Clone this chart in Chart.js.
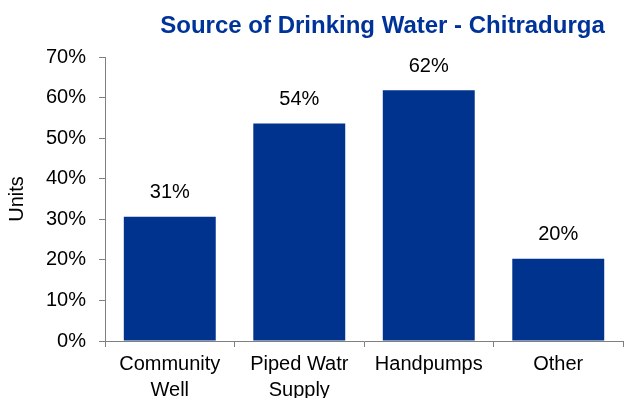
<!DOCTYPE html>
<html>
<head>
<meta charset="utf-8">
<script src="https://cdn.jsdelivr.net/npm/chart.js@4/dist/chart.umd.min.js"></script>
<style>
  html, body { margin: 0; padding: 0; background: #fff; }
  #wrap { width: 638px; height: 398px; }
</style>
</head>
<body>
<div id="wrap"><canvas id="waterChart"></canvas></div>
<script>
const chartTitle = 'Source of Drinking Water - Chitradurga';
const categories = [['Community', 'Well'], ['Piped Watr', 'Supply'], 'Handpumps', 'Other'];
const shares = [30.6, 53.6, 61.8, 20.3];
const yTicks = [0, 10, 20, 30, 40, 50, 60, 70];

const barBlue = '#00338D';
const font = 'Liberation Sans, Arial, sans-serif';

// draws the value above each bar and the chart heading
const labelPlugin = {
    id: 'labels',
    afterDatasetsDraw(chart) {
        const ctx = chart.ctx;
        const meta = chart.getDatasetMeta(0);
        ctx.save();
        ctx.fillStyle = '#000';
        ctx.font = '20px ' + font;
        ctx.textAlign = 'center';
        ctx.textBaseline = 'middle';
        meta.data.forEach((bar, i) => {
            ctx.fillText(Math.round(shares[i]) + '%', bar.x, bar.y - 24);
        });
        ctx.fillStyle = '#003399';
        ctx.font = 'bold 24px ' + font;
        ctx.fillText(chartTitle, (chart.chartArea.left + chart.width) / 2 + 11, 26);
        ctx.restore();
    }
};

new Chart(document.getElementById('waterChart'), {
    type: 'bar',
    data: {
        labels: categories,
        datasets: [{
            data: shares,
            backgroundColor: barBlue,
            barPercentage: 0.71,
            categoryPercentage: 1.0
        }]
    },
    options: {
        responsive: true,
        maintainAspectRatio: false,
        animation: false,
        layout: { padding: { top: 57, right: 15, left: 5, bottom: -9 } },
        plugins: {
            legend: { display: false },
            tooltip: { enabled: false }
        },
        scales: {
            x: {
                grid: {
                    drawOnChartArea: false,
                    tickLength: 6,
                    color: '#808080'
                },
                border: { color: '#808080' },
                ticks: {
                    color: '#000',
                    font: { family: font, size: 20, lineHeight: 1.3 },
                    padding: 4,
                    maxRotation: 0
                }
            },
            y: {
                min: 0,
                max: 70,
                afterBuildTicks: axis => {
                    axis.ticks = yTicks.map(v => ({ value: v }));
                },
                grid: {
                    drawOnChartArea: false,
                    tickLength: 6,
                    color: '#808080'
                },
                border: { color: '#808080' },
                ticks: {
                    color: '#000',
                    font: { family: font, size: 20 },
                    padding: 13,
                    callback: v => v + '%'
                },
                title: {
                    display: true,
                    text: 'Units',
                    color: '#000',
                    font: { family: font, size: 20 },
                    padding: { top: 0, bottom: 4 }
                }
            }
        }
    },
    plugins: [labelPlugin]
});
</script>
</body>
</html>
